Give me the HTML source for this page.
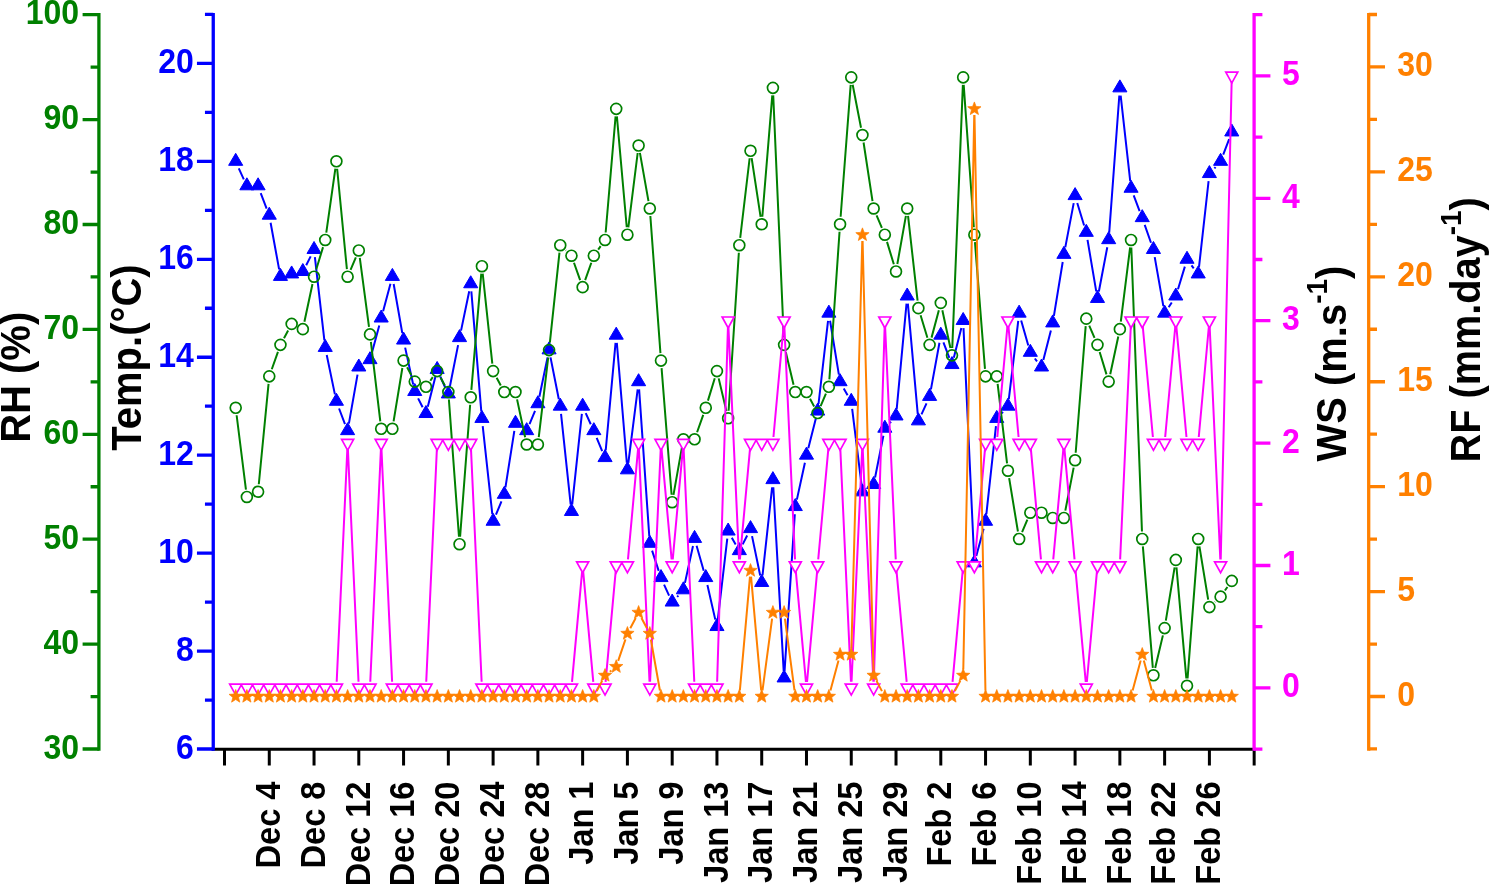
<!DOCTYPE html>
<html lang="en">
<head>
<meta charset="utf-8">
<title>RH, Temp., WS and RF — Dec to Feb</title>
<style>
html,body{margin:0;padding:0;background:#fff;}
body{width:1489px;height:884px;overflow:hidden;}
svg{display:block;font-family:"Liberation Sans",sans-serif;}
</style>
</head>
<body>
<svg width="1489" height="884" viewBox="0 0 1489 884">
<rect width="1489" height="884" fill="#ffffff"/>
<g id="temp">
<path d="M238.77 168.35L243.81 179.37M260.71 193.02L266.63 208.57M270.6 222.77L279.13 269.42M306.19 265.2L310.69 256.36M314.88 257.12L324.39 340.35M326.73 354.95L334.91 394.33M339.05 408.49L344.98 424.04M348.89 423.67L357.52 374.58M371.92 352.8L379.27 325.47M383.11 311.18L390.46 283.85M393.66 283.99L402.29 333.07M405.15 347.59L413.19 384.55M418.11 398.38L422.61 407.22M427.78 406.64L435.33 376.91M440.22 376.47L445.26 387.5M449.78 386.97L458.09 345.17M461.04 330.67L469.22 291.29M471.34 291.42L481.3 411.34M482.72 426.07L492.31 514.19M495.95 514.72L501.46 501.45M505.45 487.31L514.34 430.92M529.52 424.12L535.04 410.85M539.38 396.78L547.56 357.4M550.51 357.41L558.82 399.21M561.04 413.83L570.67 504.4M572.23 504.4L581.86 413.83M585.72 413.2L590.76 424.22M596.68 437.79L602.19 451.06M605.7 450.52L615.55 342.83M616.83 342.84L626.8 462.76M628.34 462.79L637.67 389.33M639.12 389.37L649.28 536.2M652.09 550.62L658.69 570.83M664.06 584.6L669.1 595.62M677.17 596.89L678.38 595.57M684.95 582.88L692.99 545.92M696.6 545.8L703.72 570.75M707.4 585.08L715.3 619.62M717.81 619.49L727.28 538.69M731.81 537.77L735.66 544.51M742.68 544.33L747.17 535.49M752.03 536.14L760.21 575.52M762.52 575.41L772.11 487.28M773.32 487.31L783.68 670.87M784.58 670.87L794.81 514.24M796.87 499.63L804.91 462.67M808.31 448.27L815.85 418.54M818.52 404.01L828.03 320.78M830.06 320.73L838.87 374.68M843.73 388.41L847.58 395.15M852.16 408.92L861.54 484.82M875.08 477.56L883.39 435.76M889.82 423.04L891.03 421.73M896.71 408.9L906.52 303.66M907.87 303.66L917.74 413.79M921.48 414.43L926.52 403.41M930.93 389.4L939.46 342.74M943.42 342.38L949.35 357.93M953.8 357.67L961.35 327.94M963.51 328.16L974.02 555.78M976.29 556.03L983.63 528.7M986.36 514.19L995.95 426.07M1001.74 413.25L1002.95 411.93M1008.82 399.12L1018.25 320.77M1021.16 320.54L1028.29 345.49M1034.81 358.49L1037.03 361.41M1043.34 360.12L1050.89 330.39M1053.9 315.92L1062.71 261.97M1065.28 247.39L1073.71 203.17M1077.25 202.98L1084.13 225.55M1087.52 239.92L1096.24 291.44M1098.86 291.47L1107.28 247.24M1109.21 232.59L1119.32 95.54M1120.68 95.52L1130.23 181.2M1133.69 195.47L1139.61 211.02M1144.7 224.92L1150.98 242.78M1154.72 257.05L1163.35 306.14M1168.67 307.23L1171.77 302.48M1177.98 289.21L1184.85 266.64M1191.5 265.45L1193.72 268.36M1199.02 266.9L1208.58 181.22M1214.39 168.4L1215.59 167.08M1223.22 154.7L1229.15 139.15" stroke="#0000ff" stroke-width="2.0" fill="none"/>
<path d="M228.64 165.32h14.1l-7.05 -12zM239.83 189.81h14.1l-7.05 -12zM251.03 189.81h14.1l-7.05 -12zM262.22 219.19h14.1l-7.05 -12zM273.41 280.4h14.1l-7.05 -12zM284.6 277.95h14.1l-7.05 -12zM295.79 275.5h14.1l-7.05 -12zM306.99 253.47h14.1l-7.05 -12zM318.18 351.41h14.1l-7.05 -12zM329.37 405.27h14.1l-7.05 -12zM340.56 434.65h14.1l-7.05 -12zM351.75 370.99h14.1l-7.05 -12zM362.95 363.65h14.1l-7.05 -12zM374.14 322.02h14.1l-7.05 -12zM385.33 280.4h14.1l-7.05 -12zM396.52 344.06h14.1l-7.05 -12zM407.71 395.48h14.1l-7.05 -12zM418.91 417.52h14.1l-7.05 -12zM430.1 373.44h14.1l-7.05 -12zM441.29 397.93h14.1l-7.05 -12zM452.48 341.61h14.1l-7.05 -12zM463.67 287.75h14.1l-7.05 -12zM474.87 422.41h14.1l-7.05 -12zM486.06 525.25h14.1l-7.05 -12zM497.25 498.32h14.1l-7.05 -12zM508.44 427.31h14.1l-7.05 -12zM519.63 434.65h14.1l-7.05 -12zM530.83 407.72h14.1l-7.05 -12zM542.02 353.85h14.1l-7.05 -12zM553.21 410.17h14.1l-7.05 -12zM564.4 515.46h14.1l-7.05 -12zM575.59 410.17h14.1l-7.05 -12zM586.79 434.65h14.1l-7.05 -12zM597.98 461.59h14.1l-7.05 -12zM609.17 339.16h14.1l-7.05 -12zM620.36 473.83h14.1l-7.05 -12zM631.55 385.69h14.1l-7.05 -12zM642.75 547.29h14.1l-7.05 -12zM653.94 581.57h14.1l-7.05 -12zM665.13 606.05h14.1l-7.05 -12zM676.32 593.81h14.1l-7.05 -12zM687.51 542.39h14.1l-7.05 -12zM698.71 581.57h14.1l-7.05 -12zM709.9 630.54h14.1l-7.05 -12zM721.09 535.04h14.1l-7.05 -12zM732.28 554.63h14.1l-7.05 -12zM743.47 532.6h14.1l-7.05 -12zM754.67 586.46h14.1l-7.05 -12zM765.86 483.62h14.1l-7.05 -12zM777.05 681.95h14.1l-7.05 -12zM788.24 510.56h14.1l-7.05 -12zM799.43 459.14h14.1l-7.05 -12zM810.63 415.07h14.1l-7.05 -12zM821.82 317.13h14.1l-7.05 -12zM833.01 385.69h14.1l-7.05 -12zM844.2 405.27h14.1l-7.05 -12zM855.39 495.87h14.1l-7.05 -12zM866.59 488.52h14.1l-7.05 -12zM877.78 432.21h14.1l-7.05 -12zM888.97 419.96h14.1l-7.05 -12zM900.16 299.99h14.1l-7.05 -12zM911.35 424.86h14.1l-7.05 -12zM922.55 400.38h14.1l-7.05 -12zM933.74 339.16h14.1l-7.05 -12zM944.93 368.55h14.1l-7.05 -12zM956.12 324.47h14.1l-7.05 -12zM967.31 566.87h14.1l-7.05 -12zM978.51 525.25h14.1l-7.05 -12zM989.7 422.41h14.1l-7.05 -12zM1000.89 410.17h14.1l-7.05 -12zM1012.08 317.13h14.1l-7.05 -12zM1023.27 356.3h14.1l-7.05 -12zM1034.47 370.99h14.1l-7.05 -12zM1045.66 326.92h14.1l-7.05 -12zM1056.85 258.36h14.1l-7.05 -12zM1068.04 199.6h14.1l-7.05 -12zM1079.23 236.33h14.1l-7.05 -12zM1090.43 302.44h14.1l-7.05 -12zM1101.62 243.67h14.1l-7.05 -12zM1112.81 91.86h14.1l-7.05 -12zM1124 192.25h14.1l-7.05 -12zM1135.19 221.64h14.1l-7.05 -12zM1146.39 253.47h14.1l-7.05 -12zM1157.58 317.13h14.1l-7.05 -12zM1168.77 299.99h14.1l-7.05 -12zM1179.96 263.26h14.1l-7.05 -12zM1191.15 277.95h14.1l-7.05 -12zM1202.35 177.56h14.1l-7.05 -12zM1213.54 165.32h14.1l-7.05 -12zM1224.73 135.94h14.1l-7.05 -12z" fill="#0000ff" stroke="#0000ff" stroke-width="1" stroke-linejoin="round"/>
</g>
<g id="rh">
<path d="M236.63 415.25L245.95 489.53M258.8 484.26L268.54 383.8M271.78 369.27L277.95 351.93M283.99 338.25L288.12 330.5M304.41 321.8L312.47 284.01M316.22 269.51L323.04 247.14M326.28 232.54L335.36 168.72M337.14 168.75L346.89 269.22M350.56 269.78L355.86 257.35M359.8 257.89L369 326.94M370.88 341.82L380.31 421.34M393.59 421.38L402.36 368M407.1 367.22L411.23 374.96M430.3 380.71L432.8 377.2M440.68 377.71L444.81 385.45M448.89 399.55L458.98 536.7M460.1 536.7L470.15 404.79M471.36 389.84L481.28 273.66M482.71 273.65L492.31 363.63M496.64 377.71L500.77 385.45M517.06 399.4L525.12 437.19M538.76 437.07L548.19 357.56M549.86 342.65L559.46 252.67M565.73 250.34L565.98 250.57M573.97 262.77L580.13 280.1M585.16 280.1L591.32 262.77M598.18 249.59L600.68 246.08M605.67 232.49L615.58 116.31M616.88 116.31L626.75 227.25M628.35 227.28L637.67 153M639.92 152.94L648.48 201.11M650.35 215.97L660.44 353.12M661.58 368.08L671.59 494.74M673.49 494.83L682.06 446.66M697.08 432.21L703.24 414.87M707.94 400.63L714.76 378.26M718.68 378.39L726.41 411M728.62 410.81L738.85 252.69M740.21 237.76L749.64 158.25M751.65 158.21L760.59 216.82M762.33 216.76L772.29 95.33M773.23 95.35L783.77 337.37M785.83 352.16L793.56 384.77M810.01 398.69L814.15 406.43M820.62 406.15L825.92 393.72M829.38 379.34L839.54 231.71M840.63 216.75L850.68 84.85M852.68 84.73L861.02 127.7M863.57 142.48L872.51 201.08M876.58 215.39L881.88 227.82M887.01 241.89L893.83 264.26M897.33 264.05L905.9 215.88M908.05 215.95L917.57 300.7M920.59 315.32L927.41 337.69M931.53 337.62L938.86 310.15M942.35 310.24L950.41 348.02M952.28 347.86L962.87 84.86M963.7 84.85L973.83 227.24M974.95 242.2L984.97 368.86M997.63 383.78L1007.06 463.3M1009.15 478.15L1017.92 531.53M1022.08 532.03L1027.38 519.6M1065.33 510.59L1073.66 467.62M1075.68 452.78L1085.69 326.12M1089.23 325.54L1094.53 337.97M1099.66 352.04L1106.48 374.41M1110.23 374.25L1118.29 336.46M1120.79 321.69L1130.12 247.41M1131.33 247.46L1141.96 531.44M1142.86 546.4L1152.82 667.83M1155.17 668L1162.9 635.39M1165.84 620.69L1174.61 567.31M1176.48 567.38L1186.35 678.32M1187.58 678.31L1197.63 546.41M1199.42 546.33L1208.18 599.71M1214.87 601.99L1215.12 601.75M1224.94 590.51L1227.43 587" stroke="#008000" stroke-width="2.0" fill="none"/>
<g fill="none" stroke="#008000" stroke-width="1.7">
<circle cx="235.69" cy="407.81" r="5.45"/>
<circle cx="246.88" cy="496.97" r="5.45"/>
<circle cx="258.08" cy="491.73" r="5.45"/>
<circle cx="269.27" cy="376.34" r="5.45"/>
<circle cx="280.46" cy="344.87" r="5.45"/>
<circle cx="291.65" cy="323.88" r="5.45"/>
<circle cx="302.84" cy="329.13" r="5.45"/>
<circle cx="314.04" cy="276.68" r="5.45"/>
<circle cx="325.23" cy="239.96" r="5.45"/>
<circle cx="336.42" cy="161.29" r="5.45"/>
<circle cx="347.61" cy="276.68" r="5.45"/>
<circle cx="358.8" cy="250.45" r="5.45"/>
<circle cx="370" cy="334.38" r="5.45"/>
<circle cx="381.19" cy="428.79" r="5.45"/>
<circle cx="392.38" cy="428.79" r="5.45"/>
<circle cx="403.57" cy="360.6" r="5.45"/>
<circle cx="414.76" cy="381.58" r="5.45"/>
<circle cx="425.96" cy="386.82" r="5.45"/>
<circle cx="437.15" cy="371.09" r="5.45"/>
<circle cx="448.34" cy="392.07" r="5.45"/>
<circle cx="459.53" cy="544.18" r="5.45"/>
<circle cx="470.72" cy="397.31" r="5.45"/>
<circle cx="481.92" cy="266.19" r="5.45"/>
<circle cx="493.11" cy="371.09" r="5.45"/>
<circle cx="504.3" cy="392.07" r="5.45"/>
<circle cx="515.49" cy="392.07" r="5.45"/>
<circle cx="526.68" cy="444.52" r="5.45"/>
<circle cx="537.88" cy="444.52" r="5.45"/>
<circle cx="549.07" cy="350.11" r="5.45"/>
<circle cx="560.26" cy="245.21" r="5.45"/>
<circle cx="571.45" cy="255.7" r="5.45"/>
<circle cx="582.64" cy="287.17" r="5.45"/>
<circle cx="593.84" cy="255.7" r="5.45"/>
<circle cx="605.03" cy="239.96" r="5.45"/>
<circle cx="616.22" cy="108.84" r="5.45"/>
<circle cx="627.41" cy="234.72" r="5.45"/>
<circle cx="638.6" cy="145.55" r="5.45"/>
<circle cx="649.8" cy="208.49" r="5.45"/>
<circle cx="660.99" cy="360.6" r="5.45"/>
<circle cx="672.18" cy="502.22" r="5.45"/>
<circle cx="683.37" cy="439.28" r="5.45"/>
<circle cx="694.56" cy="439.28" r="5.45"/>
<circle cx="705.76" cy="407.81" r="5.45"/>
<circle cx="716.95" cy="371.09" r="5.45"/>
<circle cx="728.14" cy="418.3" r="5.45"/>
<circle cx="739.33" cy="245.21" r="5.45"/>
<circle cx="750.52" cy="150.8" r="5.45"/>
<circle cx="761.72" cy="224.23" r="5.45"/>
<circle cx="772.91" cy="87.86" r="5.45"/>
<circle cx="784.1" cy="344.87" r="5.45"/>
<circle cx="795.29" cy="392.07" r="5.45"/>
<circle cx="806.48" cy="392.07" r="5.45"/>
<circle cx="817.68" cy="413.05" r="5.45"/>
<circle cx="828.87" cy="386.82" r="5.45"/>
<circle cx="840.06" cy="224.23" r="5.45"/>
<circle cx="851.25" cy="77.37" r="5.45"/>
<circle cx="862.44" cy="135.06" r="5.45"/>
<circle cx="873.64" cy="208.49" r="5.45"/>
<circle cx="884.83" cy="234.72" r="5.45"/>
<circle cx="896.02" cy="271.44" r="5.45"/>
<circle cx="907.21" cy="208.49" r="5.45"/>
<circle cx="918.4" cy="308.15" r="5.45"/>
<circle cx="929.6" cy="344.87" r="5.45"/>
<circle cx="940.79" cy="302.91" r="5.45"/>
<circle cx="951.98" cy="355.36" r="5.45"/>
<circle cx="963.17" cy="77.37" r="5.45"/>
<circle cx="974.36" cy="234.72" r="5.45"/>
<circle cx="985.56" cy="376.34" r="5.45"/>
<circle cx="996.75" cy="376.34" r="5.45"/>
<circle cx="1007.94" cy="470.75" r="5.45"/>
<circle cx="1019.13" cy="538.93" r="5.45"/>
<circle cx="1030.32" cy="512.71" r="5.45"/>
<circle cx="1041.52" cy="512.71" r="5.45"/>
<circle cx="1052.71" cy="517.95" r="5.45"/>
<circle cx="1063.9" cy="517.95" r="5.45"/>
<circle cx="1075.09" cy="460.25" r="5.45"/>
<circle cx="1086.28" cy="318.64" r="5.45"/>
<circle cx="1097.48" cy="344.87" r="5.45"/>
<circle cx="1108.67" cy="381.58" r="5.45"/>
<circle cx="1119.86" cy="329.13" r="5.45"/>
<circle cx="1131.05" cy="239.96" r="5.45"/>
<circle cx="1142.24" cy="538.93" r="5.45"/>
<circle cx="1153.44" cy="675.3" r="5.45"/>
<circle cx="1164.63" cy="628.1" r="5.45"/>
<circle cx="1175.82" cy="559.91" r="5.45"/>
<circle cx="1187.01" cy="685.79" r="5.45"/>
<circle cx="1198.2" cy="538.93" r="5.45"/>
<circle cx="1209.4" cy="607.12" r="5.45"/>
<circle cx="1220.59" cy="596.63" r="5.45"/>
<circle cx="1231.78" cy="580.89" r="5.45"/>
</g></g>
<g id="wind">
<path d="M336.7 681.81L347.33 449.19M347.89 449.19L358.53 681.81M370.27 681.81L380.91 449.19M381.47 449.19L392.1 681.81M426.23 681.81L436.87 449.19M471 449.19L481.64 681.81M572.01 681.83L582.09 571.57M583.2 571.57L593.28 681.83M605.58 681.83L615.66 571.57M627.97 559.43L638.05 449.17M638.88 449.19L649.52 681.81M650.07 681.81L660.71 449.19M661.54 449.17L671.62 559.43M672.74 559.43L682.82 449.17M683.65 449.19L694.29 681.81M717.13 681.8L727.95 326.8M728.42 326.79L739.05 559.41M739.89 559.43L749.97 449.17M773.46 437.03L783.54 326.77M784.38 326.79L795.01 559.41M795.85 571.57L805.93 681.83M807.04 681.83L817.12 571.57M818.23 559.43L828.31 449.17M840.34 449.19L850.97 681.81M851.53 681.81L862.17 449.19M862.72 449.19L873.36 681.81M873.82 681.8L884.64 326.8M885.11 326.79L895.74 559.41M896.58 571.57L906.66 681.83M952.54 681.83L962.62 571.57M974.92 559.43L985 449.17M997.3 437.03L1007.38 326.77M1008.5 326.77L1018.58 437.03M1030.88 449.17L1040.96 559.43M1053.26 559.43L1063.34 449.17M1064.46 449.17L1074.54 559.43M1075.65 571.57L1085.73 681.83M1086.84 681.83L1096.92 571.57M1120.14 559.41L1130.77 326.79M1142.8 326.77L1152.88 437.03M1165.18 437.03L1175.26 326.77M1176.38 326.77L1186.46 437.03M1198.76 437.03L1208.84 326.77M1209.67 326.79L1220.31 559.41M1220.73 559.4L1231.64 82" stroke="#ff00ff" stroke-width="2.0" fill="none"/>
<path d="M229.69 684.2h12l-6 10.9zM240.88 684.2h12l-6 10.9zM252.08 684.2h12l-6 10.9zM263.27 684.2h12l-6 10.9zM274.46 684.2h12l-6 10.9zM285.65 684.2h12l-6 10.9zM296.84 684.2h12l-6 10.9zM308.04 684.2h12l-6 10.9zM319.23 684.2h12l-6 10.9zM330.42 684.2h12l-6 10.9zM341.61 439.4h12l-6 10.9zM352.8 684.2h12l-6 10.9zM364 684.2h12l-6 10.9zM375.19 439.4h12l-6 10.9zM386.38 684.2h12l-6 10.9zM397.57 684.2h12l-6 10.9zM408.76 684.2h12l-6 10.9zM419.96 684.2h12l-6 10.9zM431.15 439.4h12l-6 10.9zM442.34 439.4h12l-6 10.9zM453.53 439.4h12l-6 10.9zM464.72 439.4h12l-6 10.9zM475.92 684.2h12l-6 10.9zM487.11 684.2h12l-6 10.9zM498.3 684.2h12l-6 10.9zM509.49 684.2h12l-6 10.9zM520.68 684.2h12l-6 10.9zM531.88 684.2h12l-6 10.9zM543.07 684.2h12l-6 10.9zM554.26 684.2h12l-6 10.9zM565.45 684.2h12l-6 10.9zM576.64 561.8h12l-6 10.9zM587.84 684.2h12l-6 10.9zM599.03 684.2h12l-6 10.9zM610.22 561.8h12l-6 10.9zM621.41 561.8h12l-6 10.9zM632.6 439.4h12l-6 10.9zM643.8 684.2h12l-6 10.9zM654.99 439.4h12l-6 10.9zM666.18 561.8h12l-6 10.9zM677.37 439.4h12l-6 10.9zM688.56 684.2h12l-6 10.9zM699.76 684.2h12l-6 10.9zM710.95 684.2h12l-6 10.9zM722.14 317h12l-6 10.9zM733.33 561.8h12l-6 10.9zM744.52 439.4h12l-6 10.9zM755.72 439.4h12l-6 10.9zM766.91 439.4h12l-6 10.9zM778.1 317h12l-6 10.9zM789.29 561.8h12l-6 10.9zM800.48 684.2h12l-6 10.9zM811.68 561.8h12l-6 10.9zM822.87 439.4h12l-6 10.9zM834.06 439.4h12l-6 10.9zM845.25 684.2h12l-6 10.9zM856.44 439.4h12l-6 10.9zM867.64 684.2h12l-6 10.9zM878.83 317h12l-6 10.9zM890.02 561.8h12l-6 10.9zM901.21 684.2h12l-6 10.9zM912.4 684.2h12l-6 10.9zM923.6 684.2h12l-6 10.9zM934.79 684.2h12l-6 10.9zM945.98 684.2h12l-6 10.9zM957.17 561.8h12l-6 10.9zM968.36 561.8h12l-6 10.9zM979.56 439.4h12l-6 10.9zM990.75 439.4h12l-6 10.9zM1001.94 317h12l-6 10.9zM1013.13 439.4h12l-6 10.9zM1024.32 439.4h12l-6 10.9zM1035.52 561.8h12l-6 10.9zM1046.71 561.8h12l-6 10.9zM1057.9 439.4h12l-6 10.9zM1069.09 561.8h12l-6 10.9zM1080.28 684.2h12l-6 10.9zM1091.48 561.8h12l-6 10.9zM1102.67 561.8h12l-6 10.9zM1113.86 561.8h12l-6 10.9zM1125.05 317h12l-6 10.9zM1136.24 317h12l-6 10.9zM1147.44 439.4h12l-6 10.9zM1158.63 439.4h12l-6 10.9zM1169.82 317h12l-6 10.9zM1181.01 439.4h12l-6 10.9zM1192.2 439.4h12l-6 10.9zM1203.4 317h12l-6 10.9zM1214.59 561.8h12l-6 10.9zM1225.78 72.2h12l-6 10.9z" fill="#fff" stroke="#ff00ff" stroke-width="1.7" stroke-linejoin="miter"/>
</g>
<g id="rain">
<path d="M596.71 691.12L602.16 680.9M609.82 671.74L611.43 670.48M618.17 660.92L625.46 639.32M630.28 628.16L635.73 617.94M641.47 617.94L646.93 628.16M650.86 639.55L659.92 690.49M739.87 690.42L749.98 576.67M751.06 576.67L761.18 690.42M762.52 690.45L772.1 618.61M784.91 618.61L794.49 690.45M830.44 690.61L838.49 660.42M851.41 648.43L862.28 240.93M862.6 240.93L873.48 669.42M876.51 680.9L881.96 691.12M954.85 691.12L960.3 680.9M963.29 669.42L974.24 115.02M974.48 115.02L985.44 690.4M1132.62 690.61L1140.67 660.42M1143.82 660.42L1151.86 690.61" stroke="#ff8000" stroke-width="2.0" fill="none"/>
<path d="M235.69 689.5L237.46 694.07L242.35 694.34L238.55 697.43L239.81 702.16L235.69 699.5L231.58 702.16L232.84 697.43L229.03 694.34L233.93 694.07ZM246.88 689.5L248.65 694.07L253.54 694.34L249.74 697.43L251 702.16L246.88 699.5L242.77 702.16L244.03 697.43L240.23 694.34L245.12 694.07ZM258.08 689.5L259.84 694.07L264.73 694.34L260.93 697.43L262.19 702.16L258.08 699.5L253.96 702.16L255.22 697.43L251.42 694.34L256.31 694.07ZM269.27 689.5L271.03 694.07L275.93 694.34L272.12 697.43L273.38 702.16L269.27 699.5L265.15 702.16L266.41 697.43L262.61 694.34L267.5 694.07ZM280.46 689.5L282.22 694.07L287.12 694.34L283.31 697.43L284.57 702.16L280.46 699.5L276.35 702.16L277.61 697.43L273.8 694.34L278.7 694.07ZM291.65 689.5L293.42 694.07L298.31 694.34L294.51 697.43L295.77 702.16L291.65 699.5L287.54 702.16L288.8 697.43L284.99 694.34L289.89 694.07ZM302.84 689.5L304.61 694.07L309.5 694.34L305.7 697.43L306.96 702.16L302.84 699.5L298.73 702.16L299.99 697.43L296.19 694.34L301.08 694.07ZM314.04 689.5L315.8 694.07L320.69 694.34L316.89 697.43L318.15 702.16L314.04 699.5L309.92 702.16L311.18 697.43L307.38 694.34L312.27 694.07ZM325.23 689.5L326.99 694.07L331.89 694.34L328.08 697.43L329.34 702.16L325.23 699.5L321.11 702.16L322.37 697.43L318.57 694.34L323.46 694.07ZM336.42 689.5L338.18 694.07L343.08 694.34L339.27 697.43L340.53 702.16L336.42 699.5L332.31 702.16L333.57 697.43L329.76 694.34L334.66 694.07ZM347.61 689.5L349.38 694.07L354.27 694.34L350.47 697.43L351.73 702.16L347.61 699.5L343.5 702.16L344.76 697.43L340.95 694.34L345.85 694.07ZM358.8 689.5L360.57 694.07L365.46 694.34L361.66 697.43L362.92 702.16L358.8 699.5L354.69 702.16L355.95 697.43L352.15 694.34L357.04 694.07ZM370 689.5L371.76 694.07L376.65 694.34L372.85 697.43L374.11 702.16L370 699.5L365.88 702.16L367.14 697.43L363.34 694.34L368.23 694.07ZM381.19 689.5L382.95 694.07L387.85 694.34L384.04 697.43L385.3 702.16L381.19 699.5L377.07 702.16L378.33 697.43L374.53 694.34L379.42 694.07ZM392.38 689.5L394.14 694.07L399.04 694.34L395.23 697.43L396.49 702.16L392.38 699.5L388.27 702.16L389.53 697.43L385.72 694.34L390.62 694.07ZM403.57 689.5L405.34 694.07L410.23 694.34L406.43 697.43L407.69 702.16L403.57 699.5L399.46 702.16L400.72 697.43L396.91 694.34L401.81 694.07ZM414.76 689.5L416.53 694.07L421.42 694.34L417.62 697.43L418.88 702.16L414.76 699.5L410.65 702.16L411.91 697.43L408.11 694.34L413 694.07ZM425.96 689.5L427.72 694.07L432.61 694.34L428.81 697.43L430.07 702.16L425.96 699.5L421.84 702.16L423.1 697.43L419.3 694.34L424.19 694.07ZM437.15 689.5L438.91 694.07L443.81 694.34L440 697.43L441.26 702.16L437.15 699.5L433.03 702.16L434.29 697.43L430.49 694.34L435.38 694.07ZM448.34 689.5L450.1 694.07L455 694.34L451.19 697.43L452.45 702.16L448.34 699.5L444.23 702.16L445.49 697.43L441.68 694.34L446.58 694.07ZM459.53 689.5L461.3 694.07L466.19 694.34L462.39 697.43L463.65 702.16L459.53 699.5L455.42 702.16L456.68 697.43L452.87 694.34L457.77 694.07ZM470.72 689.5L472.49 694.07L477.38 694.34L473.58 697.43L474.84 702.16L470.72 699.5L466.61 702.16L467.87 697.43L464.07 694.34L468.96 694.07ZM481.92 689.5L483.68 694.07L488.57 694.34L484.77 697.43L486.03 702.16L481.92 699.5L477.8 702.16L479.06 697.43L475.26 694.34L480.15 694.07ZM493.11 689.5L494.87 694.07L499.77 694.34L495.96 697.43L497.22 702.16L493.11 699.5L488.99 702.16L490.25 697.43L486.45 694.34L491.34 694.07ZM504.3 689.5L506.06 694.07L510.96 694.34L507.15 697.43L508.41 702.16L504.3 699.5L500.19 702.16L501.45 697.43L497.64 694.34L502.54 694.07ZM515.49 689.5L517.26 694.07L522.15 694.34L518.35 697.43L519.61 702.16L515.49 699.5L511.38 702.16L512.64 697.43L508.83 694.34L513.73 694.07ZM526.68 689.5L528.45 694.07L533.34 694.34L529.54 697.43L530.8 702.16L526.68 699.5L522.57 702.16L523.83 697.43L520.03 694.34L524.92 694.07ZM537.88 689.5L539.64 694.07L544.53 694.34L540.73 697.43L541.99 702.16L537.88 699.5L533.76 702.16L535.02 697.43L531.22 694.34L536.11 694.07ZM549.07 689.5L550.83 694.07L555.73 694.34L551.92 697.43L553.18 702.16L549.07 699.5L544.95 702.16L546.21 697.43L542.41 694.34L547.3 694.07ZM560.26 689.5L562.02 694.07L566.92 694.34L563.11 697.43L564.37 702.16L560.26 699.5L556.15 702.16L557.41 697.43L553.6 694.34L558.5 694.07ZM571.45 689.5L573.22 694.07L578.11 694.34L574.31 697.43L575.57 702.16L571.45 699.5L567.34 702.16L568.6 697.43L564.79 694.34L569.69 694.07ZM582.64 689.5L584.41 694.07L589.3 694.34L585.5 697.43L586.76 702.16L582.64 699.5L578.53 702.16L579.79 697.43L575.99 694.34L580.88 694.07ZM593.84 689.5L595.6 694.07L600.49 694.34L596.69 697.43L597.95 702.16L593.84 699.5L589.72 702.16L590.98 697.43L587.18 694.34L592.07 694.07ZM605.03 668.51L606.79 673.09L611.69 673.35L607.88 676.44L609.14 681.18L605.03 678.51L600.91 681.18L602.17 676.44L598.37 673.35L603.26 673.09ZM616.22 659.7L617.98 664.27L622.88 664.54L619.07 667.63L620.33 672.36L616.22 669.7L612.11 672.36L613.37 667.63L609.56 664.54L614.46 664.27ZM627.41 626.54L629.18 631.12L634.07 631.38L630.27 634.47L631.53 639.21L627.41 636.54L623.3 639.21L624.56 634.47L620.75 631.38L625.65 631.12ZM638.6 605.56L640.37 610.13L645.26 610.4L641.46 613.49L642.72 618.22L638.6 615.56L634.49 618.22L635.75 613.49L631.95 610.4L636.84 610.13ZM649.8 626.54L651.56 631.12L656.45 631.38L652.65 634.47L653.91 639.21L649.8 636.54L645.68 639.21L646.94 634.47L643.14 631.38L648.03 631.12ZM660.99 689.5L662.75 694.07L667.65 694.34L663.84 697.43L665.1 702.16L660.99 699.5L656.87 702.16L658.13 697.43L654.33 694.34L659.22 694.07ZM672.18 689.5L673.94 694.07L678.84 694.34L675.03 697.43L676.29 702.16L672.18 699.5L668.07 702.16L669.33 697.43L665.52 694.34L670.42 694.07ZM683.37 689.5L685.14 694.07L690.03 694.34L686.23 697.43L687.49 702.16L683.37 699.5L679.26 702.16L680.52 697.43L676.71 694.34L681.61 694.07ZM694.56 689.5L696.33 694.07L701.22 694.34L697.42 697.43L698.68 702.16L694.56 699.5L690.45 702.16L691.71 697.43L687.91 694.34L692.8 694.07ZM705.76 689.5L707.52 694.07L712.41 694.34L708.61 697.43L709.87 702.16L705.76 699.5L701.64 702.16L702.9 697.43L699.1 694.34L703.99 694.07ZM716.95 689.5L718.71 694.07L723.61 694.34L719.8 697.43L721.06 702.16L716.95 699.5L712.83 702.16L714.09 697.43L710.29 694.34L715.18 694.07ZM728.14 689.5L729.9 694.07L734.8 694.34L730.99 697.43L732.25 702.16L728.14 699.5L724.03 702.16L725.29 697.43L721.48 694.34L726.38 694.07ZM739.33 689.5L741.1 694.07L745.99 694.34L742.19 697.43L743.45 702.16L739.33 699.5L735.22 702.16L736.48 697.43L732.67 694.34L737.57 694.07ZM750.52 563.59L752.29 568.16L757.18 568.43L753.38 571.52L754.64 576.25L750.52 573.59L746.41 576.25L747.67 571.52L743.87 568.43L748.76 568.16ZM761.72 689.5L763.48 694.07L768.37 694.34L764.57 697.43L765.83 702.16L761.72 699.5L757.6 702.16L758.86 697.43L755.06 694.34L759.95 694.07ZM772.91 605.56L774.67 610.13L779.57 610.4L775.76 613.49L777.02 618.22L772.91 615.56L768.79 618.22L770.05 613.49L766.25 610.4L771.14 610.13ZM784.1 605.56L785.86 610.13L790.76 610.4L786.95 613.49L788.21 618.22L784.1 615.56L779.99 618.22L781.25 613.49L777.44 610.4L782.34 610.13ZM795.29 689.5L797.06 694.07L801.95 694.34L798.15 697.43L799.41 702.16L795.29 699.5L791.18 702.16L792.44 697.43L788.63 694.34L793.53 694.07ZM806.48 689.5L808.25 694.07L813.14 694.34L809.34 697.43L810.6 702.16L806.48 699.5L802.37 702.16L803.63 697.43L799.83 694.34L804.72 694.07ZM817.68 689.5L819.44 694.07L824.33 694.34L820.53 697.43L821.79 702.16L817.68 699.5L813.56 702.16L814.82 697.43L811.02 694.34L815.91 694.07ZM828.87 689.5L830.63 694.07L835.53 694.34L831.72 697.43L832.98 702.16L828.87 699.5L824.75 702.16L826.01 697.43L822.21 694.34L827.1 694.07ZM840.06 647.53L841.82 652.1L846.72 652.37L842.91 655.46L844.17 660.19L840.06 657.53L835.95 660.19L837.21 655.46L833.4 652.37L838.3 652.1ZM851.25 647.53L853.02 652.1L857.91 652.37L854.11 655.46L855.37 660.19L851.25 657.53L847.14 660.19L848.4 655.46L844.59 652.37L849.49 652.1ZM862.44 227.83L864.21 232.4L869.1 232.67L865.3 235.76L866.56 240.49L862.44 237.83L858.33 240.49L859.59 235.76L855.79 232.67L860.68 232.4ZM873.64 668.51L875.4 673.09L880.29 673.35L876.49 676.44L877.75 681.18L873.64 678.51L869.52 681.18L870.78 676.44L866.98 673.35L871.87 673.09ZM884.83 689.5L886.59 694.07L891.49 694.34L887.68 697.43L888.94 702.16L884.83 699.5L880.71 702.16L881.97 697.43L878.17 694.34L883.06 694.07ZM896.02 689.5L897.78 694.07L902.68 694.34L898.87 697.43L900.13 702.16L896.02 699.5L891.91 702.16L893.17 697.43L889.36 694.34L894.26 694.07ZM907.21 689.5L908.98 694.07L913.87 694.34L910.07 697.43L911.33 702.16L907.21 699.5L903.1 702.16L904.36 697.43L900.55 694.34L905.45 694.07ZM918.4 689.5L920.17 694.07L925.06 694.34L921.26 697.43L922.52 702.16L918.4 699.5L914.29 702.16L915.55 697.43L911.75 694.34L916.64 694.07ZM929.6 689.5L931.36 694.07L936.25 694.34L932.45 697.43L933.71 702.16L929.6 699.5L925.48 702.16L926.74 697.43L922.94 694.34L927.83 694.07ZM940.79 689.5L942.55 694.07L947.45 694.34L943.64 697.43L944.9 702.16L940.79 699.5L936.67 702.16L937.93 697.43L934.13 694.34L939.02 694.07ZM951.98 689.5L953.74 694.07L958.64 694.34L954.83 697.43L956.09 702.16L951.98 699.5L947.87 702.16L949.13 697.43L945.32 694.34L950.22 694.07ZM963.17 668.51L964.94 673.09L969.83 673.35L966.03 676.44L967.29 681.18L963.17 678.51L959.06 681.18L960.32 676.44L956.51 673.35L961.41 673.09ZM974.36 101.92L976.13 106.49L981.02 106.76L977.22 109.85L978.48 114.58L974.36 111.92L970.25 114.58L971.51 109.85L967.71 106.76L972.6 106.49ZM985.56 689.5L987.32 694.07L992.21 694.34L988.41 697.43L989.67 702.16L985.56 699.5L981.44 702.16L982.7 697.43L978.9 694.34L983.79 694.07ZM996.75 689.5L998.51 694.07L1003.41 694.34L999.6 697.43L1000.86 702.16L996.75 699.5L992.63 702.16L993.89 697.43L990.09 694.34L994.98 694.07ZM1007.94 689.5L1009.7 694.07L1014.6 694.34L1010.79 697.43L1012.05 702.16L1007.94 699.5L1003.83 702.16L1005.09 697.43L1001.28 694.34L1006.18 694.07ZM1019.13 689.5L1020.9 694.07L1025.79 694.34L1021.99 697.43L1023.25 702.16L1019.13 699.5L1015.02 702.16L1016.28 697.43L1012.47 694.34L1017.37 694.07ZM1030.32 689.5L1032.09 694.07L1036.98 694.34L1033.18 697.43L1034.44 702.16L1030.32 699.5L1026.21 702.16L1027.47 697.43L1023.67 694.34L1028.56 694.07ZM1041.52 689.5L1043.28 694.07L1048.17 694.34L1044.37 697.43L1045.63 702.16L1041.52 699.5L1037.4 702.16L1038.66 697.43L1034.86 694.34L1039.75 694.07ZM1052.71 689.5L1054.47 694.07L1059.37 694.34L1055.56 697.43L1056.82 702.16L1052.71 699.5L1048.59 702.16L1049.85 697.43L1046.05 694.34L1050.94 694.07ZM1063.9 689.5L1065.66 694.07L1070.56 694.34L1066.75 697.43L1068.01 702.16L1063.9 699.5L1059.79 702.16L1061.05 697.43L1057.24 694.34L1062.14 694.07ZM1075.09 689.5L1076.86 694.07L1081.75 694.34L1077.95 697.43L1079.21 702.16L1075.09 699.5L1070.98 702.16L1072.24 697.43L1068.43 694.34L1073.33 694.07ZM1086.28 689.5L1088.05 694.07L1092.94 694.34L1089.14 697.43L1090.4 702.16L1086.28 699.5L1082.17 702.16L1083.43 697.43L1079.63 694.34L1084.52 694.07ZM1097.48 689.5L1099.24 694.07L1104.13 694.34L1100.33 697.43L1101.59 702.16L1097.48 699.5L1093.36 702.16L1094.62 697.43L1090.82 694.34L1095.71 694.07ZM1108.67 689.5L1110.43 694.07L1115.33 694.34L1111.52 697.43L1112.78 702.16L1108.67 699.5L1104.55 702.16L1105.81 697.43L1102.01 694.34L1106.9 694.07ZM1119.86 689.5L1121.62 694.07L1126.52 694.34L1122.71 697.43L1123.97 702.16L1119.86 699.5L1115.75 702.16L1117.01 697.43L1113.2 694.34L1118.1 694.07ZM1131.05 689.5L1132.82 694.07L1137.71 694.34L1133.91 697.43L1135.17 702.16L1131.05 699.5L1126.94 702.16L1128.2 697.43L1124.39 694.34L1129.29 694.07ZM1142.24 647.53L1144.01 652.1L1148.9 652.37L1145.1 655.46L1146.36 660.19L1142.24 657.53L1138.13 660.19L1139.39 655.46L1135.59 652.37L1140.48 652.1ZM1153.44 689.5L1155.2 694.07L1160.09 694.34L1156.29 697.43L1157.55 702.16L1153.44 699.5L1149.32 702.16L1150.58 697.43L1146.78 694.34L1151.67 694.07ZM1164.63 689.5L1166.39 694.07L1171.29 694.34L1167.48 697.43L1168.74 702.16L1164.63 699.5L1160.51 702.16L1161.77 697.43L1157.97 694.34L1162.86 694.07ZM1175.82 689.5L1177.58 694.07L1182.48 694.34L1178.67 697.43L1179.93 702.16L1175.82 699.5L1171.71 702.16L1172.97 697.43L1169.16 694.34L1174.06 694.07ZM1187.01 689.5L1188.78 694.07L1193.67 694.34L1189.87 697.43L1191.13 702.16L1187.01 699.5L1182.9 702.16L1184.16 697.43L1180.35 694.34L1185.25 694.07ZM1198.2 689.5L1199.97 694.07L1204.86 694.34L1201.06 697.43L1202.32 702.16L1198.2 699.5L1194.09 702.16L1195.35 697.43L1191.55 694.34L1196.44 694.07ZM1209.4 689.5L1211.16 694.07L1216.05 694.34L1212.25 697.43L1213.51 702.16L1209.4 699.5L1205.28 702.16L1206.54 697.43L1202.74 694.34L1207.63 694.07ZM1220.59 689.5L1222.35 694.07L1227.25 694.34L1223.44 697.43L1224.7 702.16L1220.59 699.5L1216.47 702.16L1217.73 697.43L1213.93 694.34L1218.82 694.07ZM1231.78 689.5L1233.54 694.07L1238.44 694.34L1234.63 697.43L1235.89 702.16L1231.78 699.5L1227.67 702.16L1228.93 697.43L1225.12 694.34L1230.02 694.07Z" fill="#ff8000" stroke="#ff8000" stroke-width="0.7" stroke-linejoin="round"/>
</g>
<g stroke="#000" stroke-width="3" fill="none">
<path d="M211.75 749.2H1255.6"/>
<path d="M224.5 749.2v16.3M269.27 749.2v16.3M314.04 749.2v16.3M358.8 749.2v16.3M403.57 749.2v16.3M448.34 749.2v16.3M493.11 749.2v16.3M537.88 749.2v16.3M582.64 749.2v16.3M627.41 749.2v16.3M672.18 749.2v16.3M716.95 749.2v16.3M761.72 749.2v16.3M806.48 749.2v16.3M851.25 749.2v16.3M896.02 749.2v16.3M940.79 749.2v16.3M985.56 749.2v16.3M1030.32 749.2v16.3M1075.09 749.2v16.3M1119.86 749.2v16.3M1164.63 749.2v16.3M1209.4 749.2v16.3M1254.16 749.2v16.3"/>
</g>
<g stroke="#008000" stroke-width="3.3" fill="none">
<path d="M98.9 13.1V750.7"/>
<path d="M98.9 749h-16.3M98.9 644.1h-16.3M98.9 539.2h-16.3M98.9 434.3h-16.3M98.9 329.4h-16.3M98.9 224.5h-16.3M98.9 119.6h-16.3M98.9 14.7h-16.3M98.9 696.55h-8.3M98.9 591.65h-8.3M98.9 486.75h-8.3M98.9 381.85h-8.3M98.9 276.95h-8.3M98.9 172.05h-8.3M98.9 67.15h-8.3"/>
</g>
<g fill="#008000" font-size="32" font-weight="bold" text-anchor="end">
<text transform="translate(79.1 758.7) scale(1 1.08)">30</text>
<text transform="translate(79.1 653.8) scale(1 1.08)">40</text>
<text transform="translate(79.1 548.9) scale(1 1.08)">50</text>
<text transform="translate(79.1 444) scale(1 1.08)">60</text>
<text transform="translate(79.1 339.1) scale(1 1.08)">70</text>
<text transform="translate(79.1 234.2) scale(1 1.08)">80</text>
<text transform="translate(79.1 129.3) scale(1 1.08)">90</text>
<text transform="translate(79.1 24.4) scale(1 1.08)">100</text>
</g>
<g stroke="#0000ff" stroke-width="3.3" fill="none">
<path d="M213.25 13.1V750.7"/>
<path d="M213.25 749h-16.3M213.25 651.06h-16.3M213.25 553.12h-16.3M213.25 455.18h-16.3M213.25 357.24h-16.3M213.25 259.3h-16.3M213.25 161.36h-16.3M213.25 63.42h-16.3M213.25 700.03h-8.3M213.25 602.09h-8.3M213.25 504.15h-8.3M213.25 406.21h-8.3M213.25 308.27h-8.3M213.25 210.33h-8.3M213.25 112.39h-8.3M213.25 14.45h-8.3"/>
</g>
<g fill="#0000ff" font-size="32" font-weight="bold" text-anchor="end">
<text transform="translate(193.85 758.7) scale(1 1.08)">6</text>
<text transform="translate(193.85 660.76) scale(1 1.08)">8</text>
<text transform="translate(193.85 562.82) scale(1 1.08)">10</text>
<text transform="translate(193.85 464.88) scale(1 1.08)">12</text>
<text transform="translate(193.85 366.94) scale(1 1.08)">14</text>
<text transform="translate(193.85 269) scale(1 1.08)">16</text>
<text transform="translate(193.85 171.06) scale(1 1.08)">18</text>
<text transform="translate(193.85 73.12) scale(1 1.08)">20</text>
</g>
<g stroke="#ff00ff" stroke-width="3.3" fill="none">
<path d="M1254.1 13.1V750.7"/>
<path d="M1254.1 687.9h16.3M1254.1 565.5h16.3M1254.1 443.1h16.3M1254.1 320.7h16.3M1254.1 198.3h16.3M1254.1 75.9h16.3M1254.1 749.1h8.3M1254.1 626.7h8.3M1254.1 504.3h8.3M1254.1 381.9h8.3M1254.1 259.5h8.3M1254.1 137.1h8.3M1254.1 14.7h8.3"/>
</g>
<g fill="#ff00ff" font-size="32" font-weight="bold" text-anchor="start">
<text transform="translate(1282.1 697.4) scale(1 1.08)">0</text>
<text transform="translate(1282.1 575) scale(1 1.08)">1</text>
<text transform="translate(1282.1 452.6) scale(1 1.08)">2</text>
<text transform="translate(1282.1 330.2) scale(1 1.08)">3</text>
<text transform="translate(1282.1 207.8) scale(1 1.08)">4</text>
<text transform="translate(1282.1 85.4) scale(1 1.08)">5</text>
</g>
<g stroke="#ff8000" stroke-width="3.3" fill="none">
<path d="M1368.7 13.1V750.7"/>
<path d="M1368.7 696.5h16.3M1368.7 591.58h16.3M1368.7 486.65h16.3M1368.7 381.73h16.3M1368.7 276.8h16.3M1368.7 171.88h16.3M1368.7 66.95h16.3M1368.7 748.96h8.3M1368.7 644.04h8.3M1368.7 539.11h8.3M1368.7 434.19h8.3M1368.7 329.26h8.3M1368.7 224.34h8.3M1368.7 119.41h8.3M1368.7 14.49h8.3"/>
</g>
<g fill="#ff8000" font-size="32" font-weight="bold" text-anchor="start">
<text transform="translate(1397.3 706) scale(1 1.08)">0</text>
<text transform="translate(1397.3 601.08) scale(1 1.08)">5</text>
<text transform="translate(1397.3 496.15) scale(1 1.08)">10</text>
<text transform="translate(1397.3 391.23) scale(1 1.08)">15</text>
<text transform="translate(1397.3 286.3) scale(1 1.08)">20</text>
<text transform="translate(1397.3 181.38) scale(1 1.08)">25</text>
<text transform="translate(1397.3 76.45) scale(1 1.08)">30</text>
</g>
<g fill="#000" font-size="32.6" font-weight="bold" text-anchor="end">
<text transform="translate(279.97 781.5) rotate(-90) scale(1 1.06)">Dec 4</text>
<text transform="translate(324.74 781.5) rotate(-90) scale(1 1.06)">Dec 8</text>
<text transform="translate(369.5 781.5) rotate(-90) scale(1 1.06)">Dec 12</text>
<text transform="translate(414.27 781.5) rotate(-90) scale(1 1.06)">Dec 16</text>
<text transform="translate(459.04 781.5) rotate(-90) scale(1 1.06)">Dec 20</text>
<text transform="translate(503.81 781.5) rotate(-90) scale(1 1.06)">Dec 24</text>
<text transform="translate(548.58 781.5) rotate(-90) scale(1 1.06)">Dec 28</text>
<text transform="translate(593.34 781.5) rotate(-90) scale(1 1.06)">Jan 1</text>
<text transform="translate(638.11 781.5) rotate(-90) scale(1 1.06)">Jan 5</text>
<text transform="translate(682.88 781.5) rotate(-90) scale(1 1.06)">Jan 9</text>
<text transform="translate(727.65 781.5) rotate(-90) scale(1 1.06)">Jan 13</text>
<text transform="translate(772.42 781.5) rotate(-90) scale(1 1.06)">Jan 17</text>
<text transform="translate(817.18 781.5) rotate(-90) scale(1 1.06)">Jan 21</text>
<text transform="translate(861.95 781.5) rotate(-90) scale(1 1.06)">Jan 25</text>
<text transform="translate(906.72 781.5) rotate(-90) scale(1 1.06)">Jan 29</text>
<text transform="translate(951.49 781.5) rotate(-90) scale(1 1.06)">Feb 2</text>
<text transform="translate(996.26 781.5) rotate(-90) scale(1 1.06)">Feb 6</text>
<text transform="translate(1041.02 781.5) rotate(-90) scale(1 1.06)">Feb 10</text>
<text transform="translate(1085.79 781.5) rotate(-90) scale(1 1.06)">Feb 14</text>
<text transform="translate(1130.56 781.5) rotate(-90) scale(1 1.06)">Feb 18</text>
<text transform="translate(1175.33 781.5) rotate(-90) scale(1 1.06)">Feb 22</text>
<text transform="translate(1220.1 781.5) rotate(-90) scale(1 1.06)">Feb 26</text>
</g>
<g fill="#000" font-size="40" font-weight="bold" text-anchor="middle">
<text transform="translate(29.5 377.3) rotate(-90) scale(1 1.05)">RH (%)</text>
<text transform="translate(141 357.5) rotate(-90) scale(1 1.05)">Temp.(°C)</text>
<text transform="translate(1345.6 363.6) rotate(-90) scale(1 1.05)">WS (m.s<tspan font-size="28" dy="-18">-1</tspan><tspan dy="18">)</tspan></text>
<text font-size="39.7" transform="translate(1480.2 329.8) rotate(-90) scale(1 1.05)">RF (mm.day<tspan font-size="28" dy="-18">-1</tspan><tspan dy="18">)</tspan></text>
</g>
</svg>
</body>
</html>
